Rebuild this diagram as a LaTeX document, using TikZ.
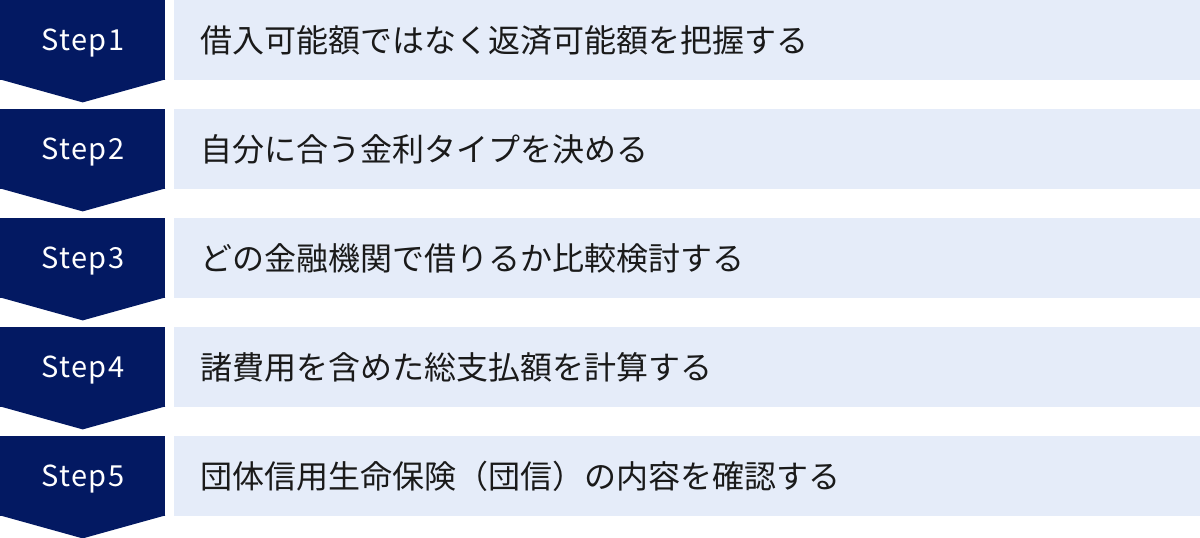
\documentclass[tikz,border=0pt]{standalone}
\usepackage{fontspec}
\setmainfont{Noto Sans}
\newfontfamily\jpfont{Noto Sans CJK JP}
\newfontfamily\stepfont[LetterSpace=5]{Noto Sans CJK JP}

\definecolor{navy}{RGB}{3,25,98}
\definecolor{lightbg}{RGB}{229,236,249}
\definecolor{textcol}{RGB}{26,26,26}

\begin{document}
\begin{tikzpicture}[
      x=1pt, y=1pt,
      stepbox/.style={rectangle,
                      fill=navy,
                      anchor=north west,
                      inner sep=0pt,
                      minimum width=165pt,
                      minimum height=80pt,
                      text height=21.5pt,
                      text depth=0pt,
                      text=white,
                      font=\stepfont\fontsize{29}{34}\selectfont},
      taskbox/.style={rectangle,
                      fill=lightbg,
                      anchor=north west,
                      inner xsep=26pt,
                      inner ysep=0pt,
                      minimum width=1026pt,
                      minimum height=80pt,
                      text width=974pt,
                      align=left,
                      text=textcol,
                      font=\jpfont\fontsize{32}{38}\selectfont},
      tip/.style={fill=navy}
    ]

    \useasboundingbox (0,0) rectangle (1200,-538);

    \draw (0,0)
          node[stepbox]
          (step1)
          { Step1 };
    \draw (174,0)
          node[taskbox]
          (task1)
          { 借入可能額ではなく返済可能額を把握する };
    \draw (0,-109)
          node[stepbox]
          (step2)
          { Step2 };
    \draw (174,-109)
          node[taskbox]
          (task2)
          { 自分に合う金利タイプを決める };
    \draw (0,-218)
          node[stepbox]
          (step3)
          { Step3 };
    \draw (174,-218)
          node[taskbox]
          (task3)
          { どの金融機関で借りるか比較検討する };
    \draw (0,-327)
          node[stepbox]
          (step4)
          { Step4 };
    \draw (174,-327)
          node[taskbox]
          (task4)
          { 諸費用を含めた総支払額を計算する };
    \draw (0,-436)
          node[stepbox]
          (step5)
          { Step5 };
    \draw (174,-436)
          node[taskbox]
          (task5)
          { 団体信用生命保険（団信）の内容を確認する };

    % arrow points under each step
    \fill [tip] ([yshift=1pt]step1.south west) -- ([yshift=1pt]step1.south east)
                -- ([yshift=-22pt]step1.south) -- cycle;
    \fill [tip] ([yshift=1pt]step2.south west) -- ([yshift=1pt]step2.south east)
                -- ([yshift=-22pt]step2.south) -- cycle;
    \fill [tip] ([yshift=1pt]step3.south west) -- ([yshift=1pt]step3.south east)
                -- ([yshift=-22pt]step3.south) -- cycle;
    \fill [tip] ([yshift=1pt]step4.south west) -- ([yshift=1pt]step4.south east)
                -- ([yshift=-22pt]step4.south) -- cycle;
    \fill [tip] ([yshift=1pt]step5.south west) -- ([yshift=1pt]step5.south east)
                -- ([yshift=-22pt]step5.south) -- cycle;

\end{tikzpicture}
\end{document}
